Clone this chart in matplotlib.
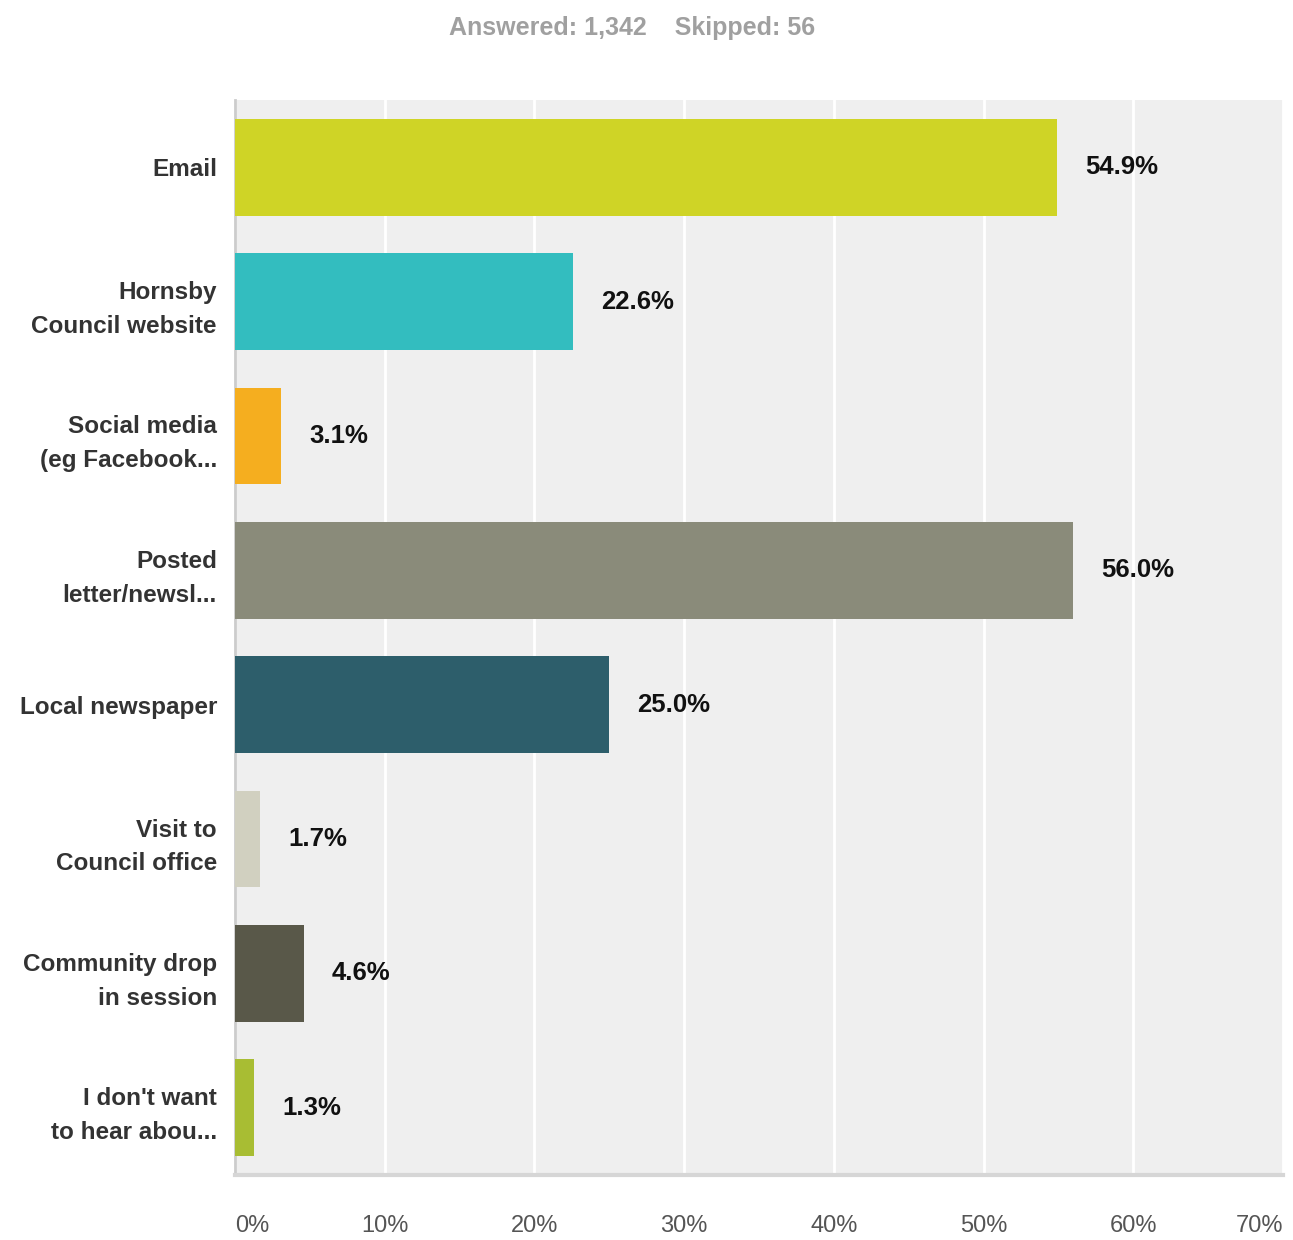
import matplotlib
matplotlib.use("Agg")
import matplotlib.pyplot as plt

plt.rcParams["font.family"] = ["Liberation Sans", "DejaVu Sans"]

# survey answers
categories = [
    "Email",
    "Hornsby\nCouncil website",
    "Social media\n(eg Facebook...",
    "Posted\nletter/newsl...",
    "Local newspaper",
    "Visit to\nCouncil office",
    "Community drop\nin session",
    "I don't want\nto hear abou...",
]
values = [54.9, 22.6, 3.1, 56.0, 25.0, 1.7, 4.6, 1.3]
colors = ["#cfd426", "#33bdbf", "#f5ae1f", "#8a8b7a",
          "#2d5e6b", "#d1d0c0", "#595849", "#a8bd33"]
xticks = [0, 10, 20, 30, 40, 50, 60, 70]
answered = "1,342"
skipped = "56"

fig = plt.figure(figsize=(12.93, 12.40), dpi=100)
ax = fig.add_axes([235 / 1293, 1 - 1175 / 1240, 1048 / 1293, 1075 / 1240])
ax.set_facecolor("#efefef")

ypos = list(range(len(categories)))
ax.barh(ypos, values, height=0.72, color=colors, zorder=3)

for y, v in zip(ypos, values):
    ax.annotate(f"{v:.1f}%", (v, y), xytext=(20, 0), textcoords="offset points",
                ha="left", va="center", fontsize=18.5, fontweight="bold",
                color="#111111", zorder=4)

ax.set_ylim(len(categories) - 0.5, -0.5)
ax.set_xlim(0, 70)
ax.set_yticks(ypos)
ax.set_yticklabels(categories, fontsize=17.5, fontweight="bold", color="#333333",
                   linespacing=1.6)
ax.set_xticks(xticks)
ax.set_xticklabels([f"{t}%" for t in xticks], fontsize=17, color="#555555")
labels = ax.get_xticklabels()
labels[0].set_ha("left")
labels[-1].set_ha("right")
ax.tick_params(axis="both", length=0)
ax.tick_params(axis="x", pad=29)
ax.tick_params(axis="y", pad=13)

ax.grid(axis="x", color="white", linewidth=2, zorder=1)
ax.set_axisbelow(True)
for side in ("top", "right"):
    ax.spines[side].set_visible(False)
ax.spines["left"].set_color("#cccccc")
ax.spines["left"].set_linewidth(2)
ax.spines["bottom"].set_color("#d6d6d6")
ax.spines["bottom"].set_linewidth(3)

fig.text(632 / 1293, 1 - 28 / 1240,
         f"Answered: {answered}    Skipped: {skipped}",
         ha="center", va="center", fontsize=18, fontweight="bold",
         color="#a0a0a0")

fig.savefig("out.png", dpi=100)
